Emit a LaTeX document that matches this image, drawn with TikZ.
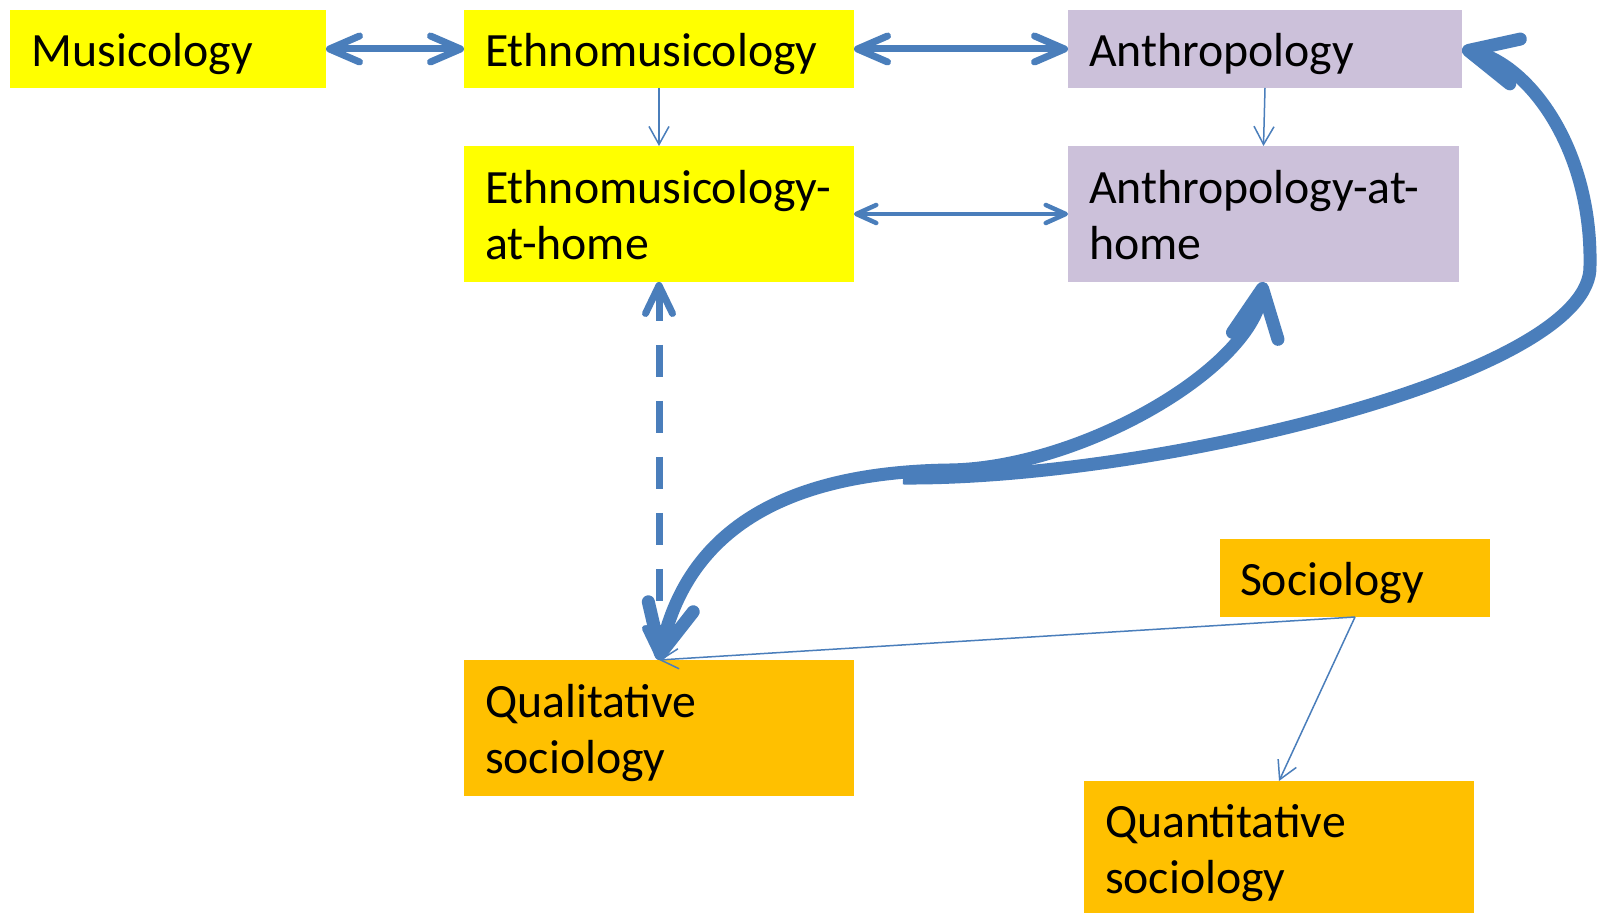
\documentclass[tikz,border=0pt]{standalone}
\usepackage{fontspec}
\setmainfont{Carlito}
\usetikzlibrary{arrows.meta}
\definecolor{boxyel}{RGB}{255,255,0}
\definecolor{boxlav}{RGB}{204,193,218}
\definecolor{boxorg}{RGB}{255,192,0}
\definecolor{arr}{RGB}{74,126,187}
\tikzset{
  BigB/.tip={Straight Barb[length=15pt,width=13pt,round]},
  MidB/.tip={Straight Barb[length=10pt,width=9pt,round]},
  SmallB/.tip={Straight Barb[length=9pt,width=10pt]},
  DashB/.tip={Straight Barb[length=14pt,width=13.5pt,round]},
  HugeB/.tip={Straight Barb[length=24pt,width=23pt,round]},
  lbl/.style={anchor=north west, inner ysep=0pt, outer sep=0pt, align=left,
    font=\fontsize{23.9pt}{28pt}\selectfont, text=black},
  oneline/.style={text height=28.5pt, text depth=10.5pt},
  twoline/.style={text height=29pt, text depth=39pt},
  conn/.style={draw=arr},
  thinconn/.style={draw=arr, line width=0.75pt, -SmallB},
  thickconn/.style={draw=arr, line width=3.5pt, BigB-BigB},
  midconn/.style={draw=arr, line width=2.25pt, MidB-MidB},
  dashconn/.style={draw=arr, line width=3.5pt, dash pattern=on 16pt off 12pt, DashB-DashB},
  hugeconn/.style={draw=arr, line width=6.5pt}
}
\begin{document}
\begin{tikzpicture}[x=0.5pt,y=-0.5pt]
\fill[white] (0,0) rectangle (1602,913);
\useasboundingbox (0,0) rectangle (1602,913);

\node[lbl, oneline, fill=boxyel, text width=136pt, inner xsep=11pt] (mus) at (10,10) {Musicology};
\node[lbl, oneline, fill=boxyel, text width=174pt, inner xsep=10.5pt] (eth) at (464,10) {Ethnomusicology};
\node[lbl, oneline, fill=boxlav, text width=176pt, inner xsep=10.5pt] (ant) at (1068,10) {Anthropology};
\node[lbl, twoline, fill=boxyel, text width=174pt, inner xsep=10.5pt] (ethh) at (464,146) {Ethnomusicology-\\at-home};
\node[lbl, twoline, fill=boxlav, text width=174.5pt, inner xsep=10.5pt] (anth) at (1068,146) {Anthropology-at-\\home};
\node[lbl, oneline, fill=boxorg, text width=115pt, inner xsep=10pt] (soc) at (1220,539) {Sociology};
\node[lbl, twoline, fill=boxorg, text width=174pt, inner xsep=10.5pt] (qual) at (464,660) {Qualitative\\sociology};
\node[lbl, text height=28.5pt, text depth=37.5pt, fill=boxorg, text width=174pt, inner xsep=10.5pt] (quant) at (1084,781) {Quantitative\\sociology};

\draw[thickconn] (mus.east) -- (eth.west);
\draw[thickconn] (eth.east) -- (ant.west);
\draw[thinconn] (eth.south) -- (ethh.north);
\draw[thinconn] (ant.south) -- (anth.north);
\draw[midconn] (ethh.east) -- (anth.west);
\draw[dashconn] (ethh.south) -- (qual.north);

\coordinate (mid) at (950,470);
\coordinate (bstart) at (903,478);
\coordinate (bturn) at (1590,265);
\draw[hugeconn, HugeB-HugeB] (qual.north) .. controls (690,520) and (800,472) .. (mid)
  .. controls (1080,468) and (1250,370) .. (anth.south);
\draw[hugeconn, -HugeB] (bstart) .. controls (1150,480) and (1595,375) .. (bturn)
  .. controls (1592,150) and (1530,65) .. (ant.east);

\draw[thinconn] (soc.south) -- (qual.north);
\draw[thinconn] (soc.south) -- (quant.north);
\end{tikzpicture}
\end{document}
